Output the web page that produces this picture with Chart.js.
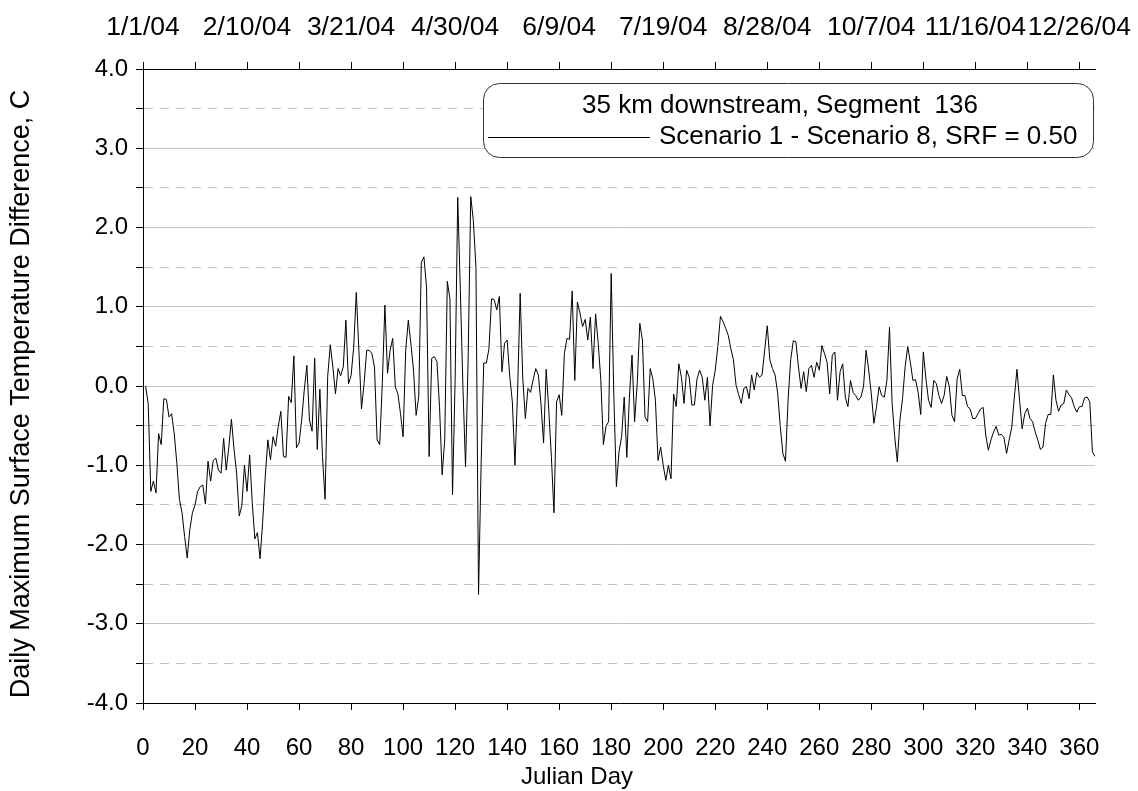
<!DOCTYPE html>
<html>
<head>
<meta charset="utf-8">
<script src="https://cdn.jsdelivr.net/npm/chart.js@4.4.0/dist/chart.umd.min.js"></script>
<style>
    html, body { margin: 0; padding: 0; background: #fff; }
</style>
</head>
<body>
<canvas id="chart1" width="1138" height="791"></canvas>
<script>
// Daily max surface temperature difference (C), Julian day 1..366
const tempDiff = [
    0.0, -0.22, -1.33, -1.2, -1.35, -0.6, -0.74, -0.16, -0.17, -0.39,
    -0.35, -0.6, -0.97, -1.43, -1.6, -1.9, -2.17, -1.81, -1.6, -1.5,
    -1.33, -1.27, -1.25, -1.49, -0.95, -1.2, -0.94, -0.91, -1.06, -1.1,
    -0.66, -1.06, -0.77, -0.42, -0.8, -1.1, -1.64, -1.51, -1.0, -1.33,
    -0.87, -1.47, -1.93, -1.85, -2.18, -1.72, -1.14, -0.68, -0.93, -0.64,
    -0.76, -0.51, -0.32, -0.89, -0.9, -0.13, -0.21, 0.38, -0.78, -0.72,
    -0.43, -0.05, 0.26, -0.43, -0.57, 0.35, -0.8, -0.04, -0.89, -1.43,
    0.12, 0.52, 0.24, -0.1, 0.22, 0.13, 0.24, 0.83, 0.03, 0.13,
    0.49, 1.18, 0.45, -0.29, 0.03, 0.45, 0.45, 0.41, 0.24, -0.68,
    -0.74, 0.03, 1.02, 0.16, 0.45, 0.6, -0.01, -0.1, -0.35, -0.64,
    0.45, 0.83, 0.53, 0.2, -0.37, -0.14, 1.56, 1.63, 1.25, -0.89,
    0.35, 0.37, 0.31, -0.26, -1.12, -0.68, 1.32, 1.1, -1.37, 0.08,
    2.38, 1.21, -0.01, -1.02, 0.33, 2.39, 2.09, 1.5, -2.63, -0.97,
    0.29, 0.29, 0.47, 1.1, 1.09, 0.96, 1.13, 0.18, 0.54, 0.58,
    0.12, -0.2, -1.0, -0.09, 1.17, 0.1, -0.41, -0.03, -0.08, 0.08,
    0.22, 0.14, -0.22, -0.72, 0.21, -0.3, -0.89, -1.6, -0.2, -0.11,
    -0.37, 0.41, 0.6, 0.59, 1.2, 0.07, 1.06, 0.92, 0.75, 0.84,
    0.58, 0.87, 0.22, 0.91, 0.54, 0.08, -0.74, -0.51, -0.45, 1.42,
    -0.1, -1.27, -0.83, -0.64, -0.14, -0.9, -0.14, 0.39, -0.45, 0.03,
    0.79, 0.58, -0.39, -0.45, 0.22, 0.09, -0.18, -0.94, -0.77, -1.0,
    -1.19, -1.0, -1.17, -0.1, -0.26, 0.28, 0.11, -0.22, 0.2, 0.11,
    -0.24, -0.24, 0.09, 0.2, 0.11, -0.18, 0.11, -0.5, 0.01, 0.2,
    0.5, 0.88, 0.81, 0.73, 0.64, 0.47, 0.33, 0.01, -0.11, -0.22,
    -0.03, -0.01, -0.16, 0.14, -0.05, 0.17, 0.11, 0.14, 0.45, 0.76,
    0.33, 0.22, 0.14, -0.09, -0.51, -0.85, -0.95, -0.18, 0.33, 0.57,
    0.56, 0.24, -0.03, 0.18, -0.07, 0.22, 0.26, 0.11, 0.3, 0.2,
    0.51, 0.41, 0.3, -0.1, 0.39, 0.43, -0.18, 0.18, 0.28, -0.14,
    -0.26, 0.07, -0.08, -0.12, -0.18, -0.14, -0.01, 0.45, 0.2, -0.1,
    -0.47, -0.26, -0.01, -0.12, -0.14, 0.07, 0.74, -0.22, -0.64, -0.96,
    -0.43, -0.16, 0.24, 0.5, 0.3, 0.07, 0.08, -0.08, -0.36, 0.43,
    0.09, -0.18, -0.27, 0.07, 0.03, -0.12, -0.22, -0.12, 0.12, -0.01,
    -0.37, -0.45, 0.09, 0.21, -0.12, -0.12, -0.26, -0.29, -0.41, -0.41,
    -0.35, -0.29, -0.27, -0.62, -0.81, -0.68, -0.58, -0.51, -0.62, -0.61,
    -0.65, -0.85, -0.68, -0.52, -0.14, 0.21, -0.18, -0.54, -0.35, -0.28,
    -0.41, -0.45, -0.58, -0.68, -0.8, -0.77, -0.47, -0.36, -0.36, 0.14,
    -0.18, -0.32, -0.24, -0.22, -0.05, -0.11, -0.15, -0.26, -0.33, -0.26,
    -0.26, -0.15, -0.14, -0.2, -0.83, -0.89
];
// Julian day of each value (first value is day 1)
const julianDay = tempDiff.map((v, i) => i + 1);

// date labels of the top axis, one every 40 days from day 0
const topDateLabels = ['1/1/04', '2/10/04', '3/21/04', '4/30/04', '6/9/04',
    '7/19/04', '8/28/04', '10/7/04', '11/16/04', '12/26/04'];

const legendTitle = '35 km downstream, Segment  136';
const seriesName = 'Scenario 1 - Scenario 8, SRF = 0.50';

const FONT = 'Liberation Sans, Arial, sans-serif';

// legend box drawn over the plot
const boxLegend = {
    id: 'boxLegend',
    afterDraw(chart) {
        const c = chart.ctx;
        c.save();
        c.beginPath();
        c.roundRect(483.5, 83.5, 610, 74, 16);
        c.fillStyle = '#fff';
        c.fill();
        c.strokeStyle = '#333';
        c.lineWidth = 1;
        c.stroke();
        c.fillStyle = '#000';
        c.font = '26px ' + FONT;
        c.textBaseline = 'middle';
        c.textAlign = 'center';
        c.fillText(legendTitle, 780, 106);
        c.textAlign = 'left';
        c.fillText(seriesName, 659, 137);
        c.beginPath();
        c.moveTo(488, 137.5);
        c.lineTo(650, 137.5);
        c.strokeStyle = chart.data.datasets[0].borderColor;
        c.stroke();
        c.restore();
    }
};

// axis titles placed where the reference has them
const axisTitles = {
    id: 'axisTitles',
    afterDraw(chart) {
        const c = chart.ctx;
        c.save();
        c.fillStyle = '#000';
        c.textAlign = 'center';
        c.textBaseline = 'middle';
        c.font = '24px ' + FONT;
        c.fillText('Julian Day', 577, 777);
        c.translate(22, 394);
        c.rotate(-Math.PI / 2);
        c.font = '27px ' + FONT;
        c.fillText('Daily Maximum Surface Temperature Difference, C', 0, 0);
        c.restore();
    }
};

const ctx1 = document.getElementById('chart1').getContext('2d');
const chart1 = new Chart(ctx1, {
    type: 'line',
    data: {
        datasets: [{
            label: seriesName,
            data: julianDay.map((d, i) => ({ x: d, y: tempDiff[i] })),
            borderColor: '#000',
            borderWidth: 1,
            pointRadius: 0,
            tension: 0,
            xAxisID: 'x',
            yAxisID: 'y'
        }]
    },
    options: {
        responsive: false,
        animation: false,
        devicePixelRatio: 1,
        layout: { padding: { left: 0, right: 43, top: 0, bottom: 0 } },
        plugins: { legend: { display: false }, tooltip: { enabled: false } },
        scales: {
            x: {
                type: 'linear',
                position: 'bottom',
                min: 0,
                max: 366,
                afterFit(s) { s.height = 88; s.paddingLeft = 0; s.paddingRight = 0; },
                ticks: {
                    stepSize: 20,
                    includeBounds: false,
                    autoSkip: false,
                    maxRotation: 0,
                    padding: 24,
                    color: '#000',
                    font: { family: FONT, size: 24 },
                    callback: v => v
                },
                grid: { drawOnChartArea: false, tickLength: 7, tickColor: '#000' },
                border: { color: '#000', width: 1 }
            },
            xTop: {
                type: 'linear',
                position: 'top',
                min: 0,
                max: 366,
                afterFit(s) { s.height = 69; s.paddingLeft = 0; s.paddingRight = 0; },
                ticks: {
                    stepSize: 20,
                    includeBounds: false,
                    autoSkip: false,
                    maxRotation: 0,
                    padding: 18,
                    color: '#000',
                    font: { family: FONT, size: 26.5 },
                    callback: v => (v % 40 === 0 ? topDateLabels[v / 40] : '')
                },
                grid: { drawOnChartArea: false, tickLength: 7, tickColor: '#000' },
                border: { color: '#000', width: 1 }
            },
            y: {
                min: -4,
                max: 4,
                afterFit(s) { s.width = 143; s.paddingTop = 0; s.paddingBottom = 0; },
                ticks: {
                    stepSize: 0.5,
                    autoSkip: false,
                    padding: 8,
                    color: '#000',
                    font: { family: FONT, size: 24 },
                    callback: v => (Number.isInteger(v) ? v.toFixed(1) : '')
                },
                grid: {
                    color: '#c4c4c4',
                    lineWidth: 1,
                    tickLength: 7,
                    tickColor: '#000'
                },
                border: {
                    color: '#000',
                    width: 1,
                    dash: c => (c.tick && !Number.isInteger(c.tick.value) ? [9, 7] : [])
                }
            }
        }
    },
    plugins: [boxLegend, axisTitles]
});
</script>
</body>
</html>
